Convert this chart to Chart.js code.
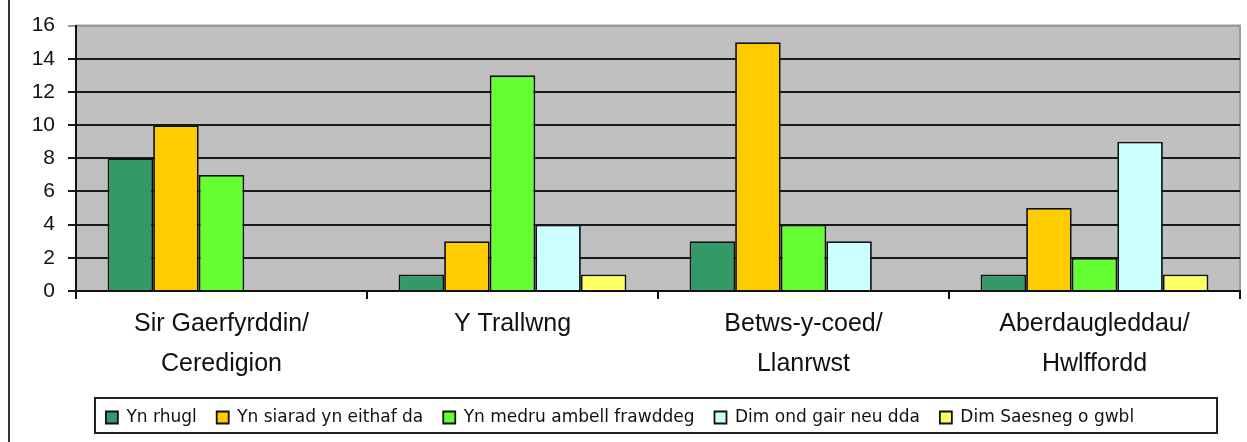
<!DOCTYPE html>
<html lang="cy">
  <head>
    <meta charset="UTF-8" />
    <title>Siaradwyr Saesneg</title>
    <script src="https://cdn.jsdelivr.net/npm/chart.js@4/dist/chart.umd.min.js"></script>
    <style>
      html, body { margin: 0; padding: 0; background: #fff; }
      .chart-container { position: relative; width: 1247px; height: 442px; }
    </style>
  </head>
  <body>
    <div class="chart-container">
      <canvas id="chart" width="1247" height="442"></canvas>
    </div>
    <script>
      const areas = [
        ['Sir Gaerfyrddin/', 'Ceredigion'],
        'Y Trallwng',
        ['Betws-y-coed/', 'Llanrwst'],
        ['Aberdaugleddau/', 'Hwlffordd']
      ];
      const seriesNames = [
        'Yn rhugl',
        'Yn siarad yn eithaf da',
        'Yn medru ambell frawddeg',
        'Dim ond gair neu dda',
        'Dim Saesneg o gwbl'
      ];
      const rhugl = [8, 1, 3, 1];
      const eithafDa = [10, 3, 15, 5];
      const ambellFrawddeg = [7, 13, 4, 2];
      const gairNeuDdau = [null, 4, 3, 9];
      const dimSaesneg = [null, 1, null, 1];
      const yTicks = [0, 2, 4, 6, 8, 10, 12, 14, 16];

      const colours = ['#339966', '#ffcc00', '#66ff33', '#ccffff', '#ffff66'];
      const values = [rhugl, eithafDa, ambellFrawddeg, gairNeuDdau, dimSaesneg];

      const font = 'Liberation Sans, Arial, sans-serif';

      // grey plot area, outer frame line and the box round the legend
      const decor = {
        id: 'decor',
        beforeDraw(chart) {
          const { ctx, chartArea: a } = chart;
          ctx.save();
          ctx.fillStyle = '#c0c0c0';
          ctx.fillRect(a.left, a.top, a.right - a.left, a.bottom - a.top);
          ctx.strokeStyle = '#9a9a9a';
          ctx.lineWidth = 2;
          ctx.beginPath();
          ctx.moveTo(a.left, a.top);
          ctx.lineTo(a.right, a.top);
          ctx.lineTo(a.right, a.bottom);
          ctx.stroke();
          ctx.strokeStyle = '#333';
          ctx.lineWidth = 2;
          ctx.beginPath();
          ctx.moveTo(9, 0);
          ctx.lineTo(9, chart.height);
          ctx.stroke();
          ctx.restore();
        },
        afterDraw(chart) {
          const { ctx } = chart;
          ctx.save();
          ctx.strokeStyle = '#222';
          ctx.lineWidth = 2;
          ctx.strokeRect(95, 398, 1122, 35);
          ctx.restore();
        }
      };

      new Chart(document.getElementById('chart'), {
        type: 'bar',
        data: {
          labels: areas,
          datasets: seriesNames.map((name, i) => ({
            label: name,
            data: values[i],
            backgroundColor: colours[i],
            borderColor: '#111',
            borderWidth: 1.8
          }))
        },
        options: {
          responsive: false,
          animation: false,
          devicePixelRatio: 1,
          layout: { padding: { left: 0, right: 7, top: 25, bottom: 6 } },
          datasets: { bar: { categoryPercentage: 0.783, barPercentage: 1 } },
          scales: {
            x: {
              offset: true,
              grid: { drawOnChartArea: false, drawTicks: true, tickLength: 8, color: '#111', lineWidth: 2 },
              border: { color: '#111', width: 2 },
              ticks: { color: '#111', font: { family: font, size: 25, lineHeight: 1.6 }, padding: 5, maxRotation: 0 },
              afterFit(scale) { scale.height = 98; }
            },
            y: {
              min: 0,
              max: 16,
              afterBuildTicks(scale) { scale.ticks = yTicks.map(v => ({ value: v })); },
              grid: {
                color: ctx => (ctx.tick && ctx.tick.value === 16 ? '#9a9a9a' : '#1a1a1a'),
                lineWidth: 2,
                tickLength: 8
              },
              border: { color: '#111', width: 2 },
              ticks: { color: '#111', font: { family: font, size: 21 }, padding: 13 },
              afterFit(scale) { scale.width = 76; }
            }
          },
          plugins: {
            legend: {
              position: 'bottom',
              align: 'center',
              labels: {
                color: '#111',
                font: { family: 'DejaVu Sans, sans-serif', size: 17 },
                boxWidth: 12,
                boxHeight: 12,
                padding: 20
              }
            },
            tooltip: { enabled: false }
          }
        },
        plugins: [decor]
      });
    </script>
  </body>
</html>
